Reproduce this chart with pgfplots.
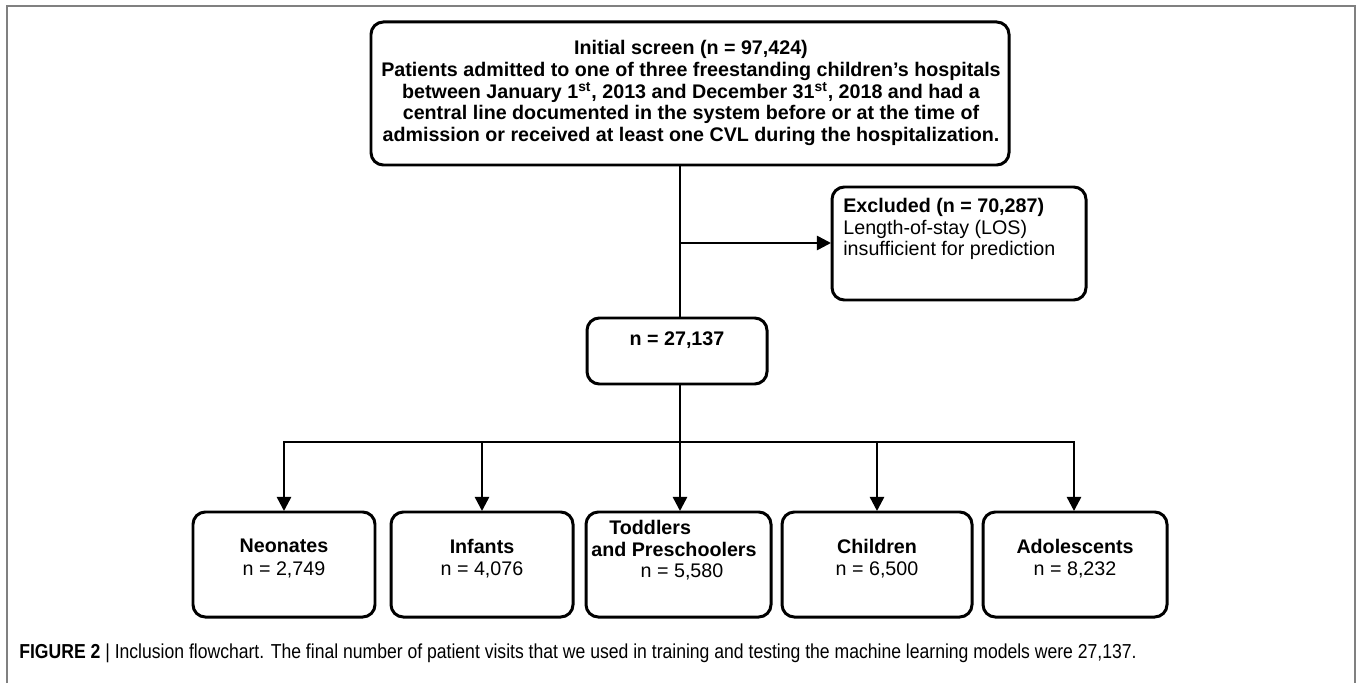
\documentclass[border=0pt]{standalone}
\usepackage{fontspec}
\setmainfont{Liberation Sans}
\newfontfamily\capfont[FakeStretch=0.87]{Liberation Sans}
\usepackage{pgfplots}
\pgfplotsset{compat=1.18}
\usetikzlibrary{arrows.meta}
\tikzset{
  box/.style={draw=black, line width=1.7pt, rounded corners=7pt, fill=white},
  conn/.style={draw=black, line width=1.4pt},
  arr/.style={draw=black, line width=1.4pt, -{Triangle[length=8pt,width=8pt]}},
  txt/.style={inner sep=0pt, font=\fontsize{11.2}{12.4}\selectfont}
}
\begin{document}
\begin{tikzpicture}
\begin{axis}[width=271.4mm, height=136.6mm, scale only axis,
  xmin=0, xmax=1357, ymin=0, ymax=683, y dir=reverse,
  hide axis, clip=false]
\path (axis cs:0,0) rectangle (axis cs:1357,683);
% frame
\draw[color=gray, line width=1.1pt] (axis cs:7,683) -- (axis cs:7,6) -- (axis cs:1355,6) -- (axis cs:1355,683);
% connectors
\addplot[conn] coordinates {(680,165) (680,318)};
\addplot[arr] coordinates {(680,243) (831,243)};
\addplot[conn] coordinates {(680,384) (680,442)};
\addplot[conn] coordinates {(284,442) (1074,442)};
\addplot[arr] coordinates {(284,441) (284,511)};
\addplot[arr] coordinates {(482,441) (482,511)};
\addplot[arr] coordinates {(680,441) (680,511)};
\addplot[arr] coordinates {(877,441) (877,511)};
\addplot[arr] coordinates {(1074,441) (1074,511)};
% boxes
\draw[box] (axis cs:371,22) rectangle (axis cs:1009,165);
\draw[box] (axis cs:832,187) rectangle (axis cs:1086,300);
\draw[box] (axis cs:587,318) rectangle (axis cs:767,384);
\draw[box] (axis cs:193,512) rectangle (axis cs:375,617);
\draw[box] (axis cs:391,512) rectangle (axis cs:573,617);
\draw[box] (axis cs:586,512) rectangle (axis cs:771,617);
\draw[box] (axis cs:782,512) rectangle (axis cs:972,617);
\draw[box] (axis cs:983,512) rectangle (axis cs:1167,617);
% top box text
\node[txt, align=center, font=\bfseries\fontsize{11.2}{12.4}\selectfont] at (axis cs:691,93) {Initial screen (n = 97,424)\\
Patients admitted to one of three freestanding children’s hospitals\\
between January 1\textsuperscript{st}, 2013 and December 31\textsuperscript{st}, 2018 and had a\\
central line documented in the system before or at the time of\\
admission or received at least one CVL during the hospitalization.};
% excluded text
\node[txt, align=left, anchor=west] at (axis cs:843,229) {\textbf{Excluded (n = 70,287)}\\
Length-of-stay (LOS)\\
insufficient for prediction};
% n box
\node[txt] at (axis cs:677,340) {\textbf{n = 27,137}};
% bottom boxes
\node[txt] at (axis cs:284,546) {\textbf{Neonates}};
\node[txt] at (axis cs:284,570) {n = 2,749};
\node[txt] at (axis cs:482,546) {\textbf{Infants}};
\node[txt] at (axis cs:482,570) {n = 4,076};
\node[txt, anchor=west] at (axis cs:609,527) {\textbf{Toddlers}};
\node[txt] at (axis cs:674,549) {\textbf{and Preschoolers}};
\node[txt] at (axis cs:682,572) {n = 5,580};
\node[txt] at (axis cs:877,546) {\textbf{Children}};
\node[txt] at (axis cs:877,570) {n = 6,500};
\node[txt] at (axis cs:1075,546) {\textbf{Adolescents}};
\node[txt] at (axis cs:1075,570) {n = 8,232};
% caption
\node[inner sep=0pt, anchor=west] at (axis cs:19,653) {\capfont\fontsize{11.5}{13}\selectfont\textbf{FIGURE 2} | Inclusion flowchart. The final number of patient visits that we used in training and testing the machine learning models were 27,137.};
\end{axis}
\end{tikzpicture}
\end{document}
